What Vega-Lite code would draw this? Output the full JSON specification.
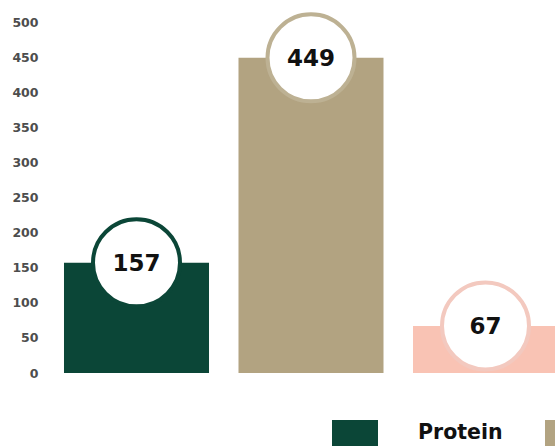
{
  "$schema": "https://vega.github.io/schema/vega-lite/v6.json",
  "autosize": {"type": "none"},
  "width": 515,
  "height": 351,
  "padding": {"left": 40, "top": 22, "right": 0, "bottom": 73},
  "background": "white",
  "config": {"view": {"stroke": null}},
  "data": {
    "values": [
      {"nutrient": "Protein", "grams": 157},
      {"nutrient": "Carbs", "grams": 449},
      {"nutrient": "Fat", "grams": 67}
    ]
  },
  "encoding": {
    "x": {
      "field": "nutrient",
      "type": "nominal",
      "sort": null,
      "axis": null,
      "scale": {"range": [0, 542], "paddingInner": 0.169, "paddingOuter": 0.1375}
    },
    "y": {
      "field": "grams",
      "type": "quantitative",
      "scale": {"domain": [0, 500]},
      "axis": {
        "title": null,
        "values": [0, 50, 100, 150, 200, 250, 300, 350, 400, 450, 500],
        "domain": false,
        "ticks": false,
        "tickSize": 0,
        "grid": false,
        "labelPadding": 2,
        "labelFont": "DejaVu Sans",
        "labelFontSize": 12.5,
        "labelFontWeight": "bold",
        "labelColor": "#4d4d4d"
      }
    }
  },
  "layer": [
    {
      "mark": {"type": "bar", "clip": true},
      "encoding": {
        "color": {
          "field": "nutrient",
          "type": "nominal",
          "sort": null,
          "scale": {"domain": ["Protein", "Carbs", "Fat"], "range": ["#0b4637", "#b2a381", "#f9c3b4"]},
          "legend": {
            "orient": "none",
            "legendX": 292,
            "legendY": 388,
            "direction": "horizontal",
            "title": null,
            "padding": 0,
            "symbolType": "M-1,-0.565H1V0.565H-1Z",
            "symbolSize": 2116,
            "symbolStrokeWidth": 0,
            "symbolOpacity": 1,
            "labelFont": "DejaVu Sans",
            "labelFontSize": 20.5,
            "labelFontWeight": "bold",
            "labelColor": "#111111",
            "labelOffset": 40,
            "columnPadding": 42,
            "labelLimit": 300
          }
        }
      }
    },
    {
      "mark": {"type": "point", "shape": "circle", "size": 7569, "filled": true, "fill": "white", "strokeWidth": 4, "opacity": 1},
      "encoding": {
        "stroke": {
          "field": "nutrient",
          "type": "nominal",
          "sort": null,
          "scale": {"domain": ["Protein", "Carbs", "Fat"], "range": ["#0b4637", "#bdb193", "#f3c9bf"]},
          "legend": null
        }
      }
    },
    {
      "mark": {"type": "text", "font": "DejaVu Sans", "fontSize": 23, "fontWeight": "bold", "color": "#111111", "baseline": "middle", "align": "center", "dy": 1},
      "encoding": {"text": {"field": "grams", "type": "quantitative"}}
    }
  ]
}
